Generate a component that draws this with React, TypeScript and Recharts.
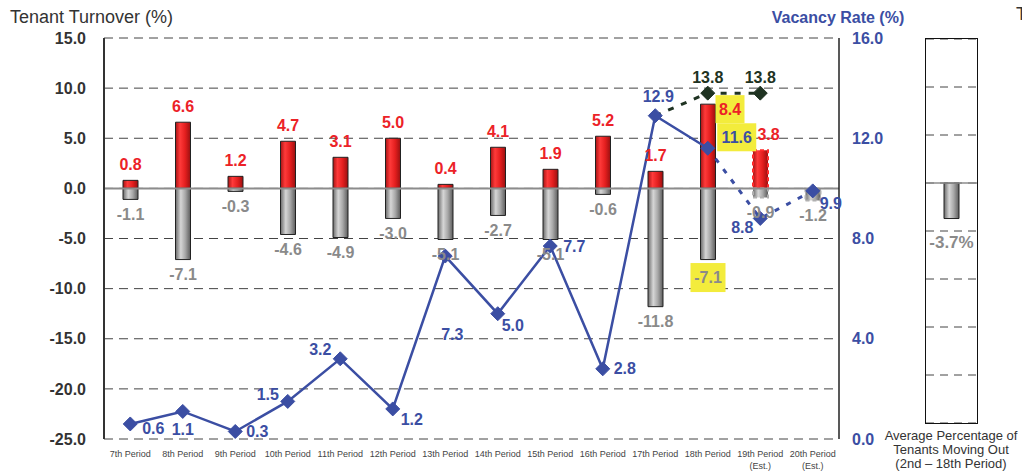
import React from 'react';
import {
  ComposedChart,
  BarChart,
  Bar,
  Line,
  XAxis,
  YAxis,
  CartesianGrid,
  ReferenceLine,
  LabelList,
  Cell,
} from 'recharts';

// ---------- data ----------
const periods = [
  '7th Period', '8th Period', '9th Period', '10th Period', '11th Period', '12th Period', '13th Period',
  '14th Period', '15th Period', '16th Period', '17th Period', '18th Period', '19th Period', '20th Period',
];
const periodNotes = ['', '', '', '', '', '', '', '', '', '', '', '', '(Est.)', '(Est.)'];
const moveIn = [0.8, 6.6, 1.2, 4.7, 3.1, 5.0, 0.4, 4.1, 1.9, 5.2, 1.7, 8.4, 3.8, 0.0];
const moveOut = [-1.1, -7.1, -0.3, -4.6, -4.9, -3.0, -5.1, -2.7, -5.1, -0.6, -11.8, -7.1, -0.9, -1.2];
const vacancy = [0.6, 1.1, 0.3, 1.5, 3.2, 1.2, 7.3, 5.0, 7.7, 2.8, 12.9, 11.6, 8.8, 9.9];
const vacancyPlan: (number | null)[] = [null, null, null, null, null, null, null, null, null, null, 12.9, 13.8, 13.8, null];
const leftTicks = [-25, -20, -15, -10, -5, 0, 5, 10, 15];
const rightTicks = [0, 4, 8, 12, 16];
const avgMoveOut = -3.7;

const LAST_ACTUAL = 11; // 18th Period
const HIGHLIGHT = 11;
const PLAN_MARK_FROM = 11;

// ---------- style ----------
const FONT = "'Liberation Sans', Arial, Helvetica, sans-serif";
const BLUE = '#3b4ea3';
const RED = '#ec2227';
const GRAY_TXT = '#8a8a8a';
const GREEN = '#1f3322';
const YELLOW = '#f3ec3c';
const vacLabelOffsets: [number, number][] = [
  [23, 5], [0, 18], [22, 0], [-20, -7], [-20, -9], [19, 11], [7, 78],
  [15, 12], [24, 0], [22, 0], [3, -19], [29, -11], [-18, 9], [18, 13],
];
const redLabelShiftX: Record<number, number> = { 12: 8 };

const data = periods.map((name, i) => ({
  name,
  note: periodNotes[i],
  moveIn: moveIn[i],
  moveOut: moveOut[i],
  vacActual: i <= LAST_ACTUAL ? vacancy[i] : null,
  vacEst: i >= LAST_ACTUAL ? vacancy[i] : null,
  plan: vacancyPlan[i],
}));

const panelData = [{ name: 'avg', value: avgMoveOut }];

const fmt = (v: number) => (Math.abs(v) < 1e-9 ? '0.0' : v.toFixed(1));

const RedLabel = (props: any) => {
  const { x, y, width, height, index, value } = props;
  if (value == null) return null;
  const top = Math.min(y, y + height);
  const cx = x + width / 2;
  if (index === HIGHLIGHT) {
    const tx = cx + 22;
    const ty = top + 5;
    return (
      <g>
        <rect x={tx - 14.5} y={ty - 14} width={29} height={28} fill={YELLOW} />
        <text x={tx} y={ty} textAnchor="middle" dominantBaseline="central" fill={RED} fontSize={16} fontWeight="bold" fontFamily={FONT}>
          {fmt(value)}
        </text>
      </g>
    );
  }
  return (
    <text x={cx + (redLabelShiftX[index] || 0)} y={top - 16} textAnchor="middle" dominantBaseline="central" fill={RED} fontSize={16} fontWeight="bold" fontFamily={FONT}>
      {fmt(value)}
    </text>
  );
};

const GrayLabel = (props: any) => {
  const { x, y, width, height, index, value } = props;
  if (value == null) return null;
  const bottom = Math.max(y, y + height);
  const cx = x + width / 2;
  if (index === HIGHLIGHT) {
    const ty = bottom + 18;
    return (
      <g>
        <rect x={cx - 17.5} y={ty - 14.5} width={35} height={29} fill={YELLOW} />
        <text x={cx} y={ty} textAnchor="middle" dominantBaseline="central" fill={GRAY_TXT} fontSize={16} fontWeight="bold" fontFamily={FONT}>
          {fmt(value)}
        </text>
      </g>
    );
  }
  return (
    <text x={cx} y={bottom + 15} textAnchor="middle" dominantBaseline="central" fill={GRAY_TXT} fontSize={16} fontWeight="bold" fontFamily={FONT}>
      {fmt(value)}
    </text>
  );
};

const makeVacLabel = (from: number, to: number) => (props: any) => {
  const { x, y, index, value } = props;
  if (value == null || index < from || index > to || x == null || y == null) return null;
  const [dx, dy] = vacLabelOffsets[index];
  const tx = x + dx;
  const ty = y + dy;
  const txt = fmt(value);
  return (
    <g>
      {index === HIGHLIGHT && <rect x={tx - 19.5} y={ty - 14} width={39} height={28} fill={YELLOW} />}
      <text x={tx} y={ty} textAnchor="middle" dominantBaseline="central" fill={BLUE} fontSize={16} fontWeight="bold" fontFamily={FONT}>
        {txt}
      </text>
    </g>
  );
};

const PlanLabel = (props: any) => {
  const { x, y, index, value } = props;
  if (value == null || index < PLAN_MARK_FROM) return null;
  return (
    <text x={x} y={y - 16} textAnchor="middle" dominantBaseline="central" fill={GREEN} fontSize={16} fontWeight="bold" fontFamily={FONT}>
      {fmt(value)}
    </text>
  );
};

const diamond = (color: string, from: number, to: number) => (props: any) => {
  const { cx, cy, index, value } = props;
  if (cx == null || cy == null || value == null || index < from || index > to) return <g key={`n-${index}`} />;
  const r = 7;
  return (
    <polygon
      key={`d-${index}`}
      points={`${cx},${cy - r} ${cx + r},${cy} ${cx},${cy + r} ${cx - r},${cy}`}
      fill={color}
      stroke={color}
    />
  );
};

const XTick = (props: any) => {
  const { x, y, payload, index } = props;
  const note = periodNotes[index] || '';
  return (
    <g>
      <text x={x} y={y + 18} textAnchor="middle" fill="#444" fontSize={9} fontFamily={FONT}>
        {payload.value}
      </text>
      {note && (
        <text x={x} y={y + 30} textAnchor="middle" fill="#444" fontSize={9} fontFamily={FONT}>
          {note}
        </text>
      )}
    </g>
  );
};

const PanelLabel = (props: any) => {
  const { x, y, width, height, value } = props;
  const bottom = Math.max(y, y + height);
  return (
    <text x={x + width / 2} y={bottom + 24} textAnchor="middle" dominantBaseline="central" fill={GRAY_TXT} fontSize={17} fontWeight="bold" fontFamily={FONT}>
      {`${value.toFixed(1)}%`}
    </text>
  );
};

export default function App() {
  return (
    <div style={{ position: 'absolute', left: 0, top: 0, width: 1022, height: 472, background: '#fff', fontFamily: FONT }}>
      <div style={{ position: 'absolute', left: 0, top: 0 }}>
        <ComposedChart
          width={1022}
          height={472}
          data={data}
          stackOffset="sign"
          margin={{ top: 38, right: 0, bottom: 0, left: 0 }}
        >
          <defs>
            <linearGradient id="redGradM" x1="0" y1="0" x2="1" y2="0">
              <stop offset="0%" stopColor="#a81414" />
              <stop offset="30%" stopColor="#ff3a3a" />
              <stop offset="65%" stopColor="#e31e1e" />
              <stop offset="100%" stopColor="#9a1010" />
            </linearGradient>
            <linearGradient id="grayGradM" x1="0" y1="0" x2="1" y2="0">
              <stop offset="0%" stopColor="#6a6a6a" />
              <stop offset="35%" stopColor="#d6d6d6" />
              <stop offset="65%" stopColor="#a8a8a8" />
              <stop offset="100%" stopColor="#5c5c5c" />
            </linearGradient>
          </defs>
          <CartesianGrid yAxisId="left" vertical={false} stroke="#444" strokeDasharray="9 6" strokeWidth={1} />
          <XAxis
            dataKey="name"
            height={33}
            axisLine={false}
            tickLine={false}
            tickSize={0}
            tickMargin={0}
            interval={0}
            tick={<XTick />}
          />
          <YAxis
            yAxisId="left"
            width={104}
            domain={[-25, 15]}
            ticks={leftTicks}
            interval={0}
            allowDataOverflow
            tickFormatter={(v: number) => v.toFixed(1)}
            tick={{ fill: '#333', fontSize: 16, fontWeight: 'bold', fontFamily: FONT }}
            tickLine={false}
            tickSize={0}
            tickMargin={18}
            axisLine={{ stroke: '#333', strokeWidth: 2 }}
          />
          <YAxis
            yAxisId="right"
            orientation="right"
            width={183}
            domain={[0, 16]}
            ticks={rightTicks}
            interval={0}
            allowDataOverflow
            tickFormatter={(v: number) => v.toFixed(1)}
            tick={{ fill: BLUE, fontSize: 16, fontWeight: 'bold', fontFamily: FONT }}
            tickLine={false}
            tickSize={0}
            tickMargin={13}
            axisLine={{ stroke: '#222', strokeWidth: 1.5 }}
          />
          <ReferenceLine yAxisId="left" y={0} stroke="#8c8c8c" strokeWidth={2} />
          <Bar yAxisId="left" dataKey="moveIn" stackId="a" barSize={15} fill="url(#redGradM)" stroke="#222" strokeWidth={1} isAnimationActive={false}>
            {data.map((d, i) => (
              <Cell
                key={`in-${i}`}
                stroke={i > LAST_ACTUAL ? '#ff2a2a' : '#222'}
                strokeDasharray={i > LAST_ACTUAL ? '4 3' : undefined}
                strokeWidth={i > LAST_ACTUAL ? 2 : 1}
              />
            ))}
            <LabelList dataKey="moveIn" content={<RedLabel />} />
          </Bar>
          <Bar yAxisId="left" dataKey="moveOut" stackId="a" barSize={15} fill="url(#grayGradM)" stroke="#222" strokeWidth={1} isAnimationActive={false}>
            {data.map((d, i) => (
              <Cell
                key={`out-${i}`}
                stroke={i > LAST_ACTUAL ? '#b0b0b0' : '#222'}
                strokeDasharray={i > LAST_ACTUAL ? '4 3' : undefined}
                strokeWidth={i > LAST_ACTUAL ? 2 : 1}
              />
            ))}
            <LabelList dataKey="moveOut" content={<GrayLabel />} />
          </Bar>
          <Line
            yAxisId="right"
            dataKey="plan"
            stroke={GREEN}
            strokeWidth={3}
            strokeDasharray="6 8"
            dot={diamond(GREEN, PLAN_MARK_FROM, 99)}
            activeDot={false}
            connectNulls={false}
            isAnimationActive={false}
          >
            <LabelList dataKey="plan" content={<PlanLabel />} />
          </Line>
          <Line
            yAxisId="right"
            dataKey="vacEst"
            stroke={BLUE}
            strokeWidth={3}
            strokeDasharray="5 8"
            dot={diamond(BLUE, LAST_ACTUAL + 1, 99)}
            activeDot={false}
            connectNulls={false}
            isAnimationActive={false}
          >
            <LabelList dataKey="vacEst" content={makeVacLabel(LAST_ACTUAL + 1, 99)} />
          </Line>
          <Line
            yAxisId="right"
            dataKey="vacActual"
            stroke={BLUE}
            strokeWidth={2.5}
            dot={diamond(BLUE, 0, LAST_ACTUAL)}
            activeDot={false}
            connectNulls={false}
            isAnimationActive={false}
          >
            <LabelList dataKey="vacActual" content={makeVacLabel(0, LAST_ACTUAL)} />
          </Line>
        </ComposedChart>
      </div>

      <div style={{ position: 'absolute', left: 926, top: 39 }}>
        <BarChart width={51} height={384} data={panelData} margin={{ top: 0, right: 0, bottom: 0, left: 0 }}>
          <defs>
            <linearGradient id="grayGradP" x1="0" y1="0" x2="1" y2="0">
              <stop offset="0%" stopColor="#6a6a6a" />
              <stop offset="35%" stopColor="#d6d6d6" />
              <stop offset="65%" stopColor="#a8a8a8" />
              <stop offset="100%" stopColor="#5c5c5c" />
            </linearGradient>
          </defs>
          <CartesianGrid vertical={false} stroke="#444" strokeDasharray="8 6" />
          <XAxis dataKey="name" hide />
          <YAxis hide domain={[-25, 15]} ticks={leftTicks} interval={0} />
          <ReferenceLine y={0} stroke="#8c8c8c" strokeWidth={1.5} />
          <Bar dataKey="value" barSize={15} fill="url(#grayGradP)" stroke="#222" strokeWidth={1} isAnimationActive={false}>
            <LabelList dataKey="value" content={<PanelLabel />} />
          </Bar>
        </BarChart>
      </div>
      <div style={{ position: 'absolute', left: 925, top: 38, width: 51, height: 384, border: '1.5px solid #111', pointerEvents: 'none' }} />

      <svg width={1022} height={472} style={{ position: 'absolute', left: 0, top: 0, pointerEvents: 'none' }}>
        <text x={10} y={17} dominantBaseline="central" fill="#333" fontSize={18} fontFamily={FONT}>
          Tenant Turnover (%)
        </text>
        <text x={838} y={17} textAnchor="middle" dominantBaseline="central" fill={BLUE} fontSize={16} fontWeight="bold" fontFamily={FONT}>
          Vacancy Rate (%)
        </text>
        <text x={1016} y={14} dominantBaseline="central" fill="#333" fontSize={18} fontFamily={FONT}>
          T
        </text>
        <text x={951} y={435} textAnchor="middle" dominantBaseline="central" fill="#333" fontSize={13} fontFamily={FONT}>
          Average Percentage of
        </text>
        <text x={951} y={449} textAnchor="middle" dominantBaseline="central" fill="#333" fontSize={13} fontFamily={FONT}>
          Tenants Moving Out
        </text>
        <text x={951} y={463} textAnchor="middle" dominantBaseline="central" fill="#333" fontSize={13} fontFamily={FONT}>
          (2nd – 18th Period)
        </text>
      </svg>
    </div>
  );
}
